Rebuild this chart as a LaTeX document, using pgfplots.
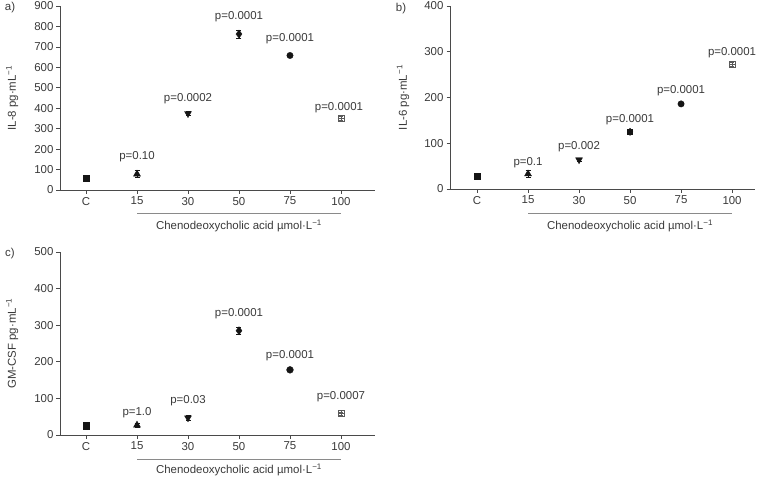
\documentclass[border=0pt]{standalone}
\usepackage{fontspec}
\setmainfont{Liberation Sans}
\usepackage{pgfplots}
\pgfplotsset{compat=1.18}
\definecolor{txt}{HTML}{3A3A3A}
\definecolor{axc}{HTML}{4A4A4A}
\definecolor{ulc}{HTML}{8A8A8A}
\definecolor{mk}{HTML}{151515}
\definecolor{gmk}{HTML}{5A5A5A}
\newcommand{\tf}{\fontsize{11.5}{13}\selectfont}
\newcommand{\xl}{Chenodeoxycholic acid µmol·L\textsuperscript{−1}}
\pgfplotsset{
 panel/.style={
  scale only axis, axis lines=left,
  axis line style={-, draw=axc, line width=0.7pt},
  tick align=outside, major tick length=3.5bp,
  every tick/.style={draw=axc, line width=0.7pt},
  xtick={0,1,2,3,4,5}, xticklabels={C,15,30,50,75,100},
  ymin=0, clip=false,
  /pgf/number format/assume math mode=true,
  tick label style={font=\tf, text=txt},
  yticklabel style={xshift=0.5bp},
  ylabel style={font=\tf, text=txt, anchor=center},
 },
 pt/.style={only marks, color=mk, mark options={solid, fill=mk, draw=mk},
  error bars/y dir=both, error bars/y explicit,
  error bars/error bar style={line width=0.7pt, color=mk},
  error bars/error mark options={rotate=90, mark size=2.5bp, line width=0.7pt, color=mk}},
 gpt/.style={only marks, color=gmk, mark options={solid, draw=gmk, line width=0.6pt},
  error bars/y dir=both, error bars/y explicit,
  error bars/error bar style={line width=0.6pt, color=gmk},
  error bars/error mark options={rotate=90, mark size=2bp, line width=0.6pt, color=gmk}},
}
\begin{document}
\begin{tikzpicture}
\useasboundingbox (0,0) rectangle (758bp,-478bp);
\node[font=\tf, text=txt] at (10bp,-8bp) {a)};
\node[font=\tf, text=txt] at (401bp,-9bp) {b)};
\node[font=\tf, text=txt] at (10bp,-254bp) {c)};
% ---------------- panel a
\begin{axis}[panel, at={(60bp,-190bp)}, anchor=south west,
  width=315bp, height=184bp, xmin=-0.51, xmax=5.667, ymax=900,
  ytick={0,100,...,900},
  ylabel={IL-8 pg·mL\textsuperscript{−1}},
  ylabel style={at={(axis description cs:-0.152,0.5)}}]
\addplot[pt, mark=square*, mark size=3.2bp] coordinates {(0,57) +- (0,4)};
\addplot[pt, mark=triangle*, mark size=4bp] coordinates {(1,78) +- (0,16)};
\addplot[pt, mark=triangle*, mark size=4bp, mark options={rotate=180}] coordinates {(2,374) +- (0,11)};
\addplot[pt, mark=diamond*, mark size=4bp] coordinates {(3,763) +- (0,19)};
\addplot[pt, mark=*, mark size=3.2bp] coordinates {(4,658) +- (0,6)};
\addplot[gpt, mark=square, mark size=3bp] coordinates {(5,351) +- (0,8)};
\addplot[gpt, mark=+, mark size=3bp] coordinates {(5,351) +- (0,0)};
\node[font=\tf, text=txt] at ([yshift=17bp]axis cs:1,78) {p=0.10};
\node[font=\tf, text=txt] at ([yshift=15bp]axis cs:2,374) {p=0.0002};
\node[font=\tf, text=txt] at ([yshift=17bp]axis cs:3,763) {p=0.0001};
\node[font=\tf, text=txt] at ([yshift=17bp]axis cs:4,658) {p=0.0001};
\node[font=\tf, text=txt] at ([yshift=11bp,xshift=-2bp]axis cs:5,351) {p=0.0001};
\draw[ulc, line width=0.7pt] ([yshift=-23bp]axis cs:1,0) -- ([yshift=-23bp]axis cs:5,0);
\node[font=\tf, text=txt] at ([yshift=-36bp]axis cs:3,0) {\xl};
\end{axis}
% ---------------- panel b
\begin{axis}[panel, at={(450bp,-189bp)}, anchor=south west,
  width=305bp, height=183bp, xmin=-0.53, xmax=5.45, ymax=400,
  ytick={0,100,...,400},
  ylabel={IL-6 pg·mL\textsuperscript{−1}},
  ylabel style={at={(axis description cs:-0.154,0.5)}}]
\addplot[pt, mark=square*, mark size=3.2bp] coordinates {(0,28) +- (0,2)};
\addplot[pt, mark=triangle*, mark size=4bp] coordinates {(1,33) +- (0,7)};
\addplot[pt, mark=triangle*, mark size=4bp, mark options={rotate=180}] coordinates {(2,64) +- (0,3)};
\addplot[pt, mark=square*, mark size=2.6bp] coordinates {(3,125) +- (0,5)};
\addplot[pt, mark=diamond*, mark size=3.7bp] coordinates {(3,125) +- (0,0)};
\addplot[pt, mark=*, mark size=3.2bp] coordinates {(4,186) +- (0,3)};
\addplot[gpt, mark=square, mark size=3bp] coordinates {(5,272) +- (0,4)};
\addplot[gpt, mark=+, mark size=3bp] coordinates {(5,272) +- (0,0)};
\node[font=\tf, text=txt] at ([yshift=11bp]axis cs:1,33) {p=0.1};
\node[font=\tf, text=txt] at ([yshift=13bp]axis cs:2,64) {p=0.002};
\node[font=\tf, text=txt] at ([yshift=12bp]axis cs:3,125) {p=0.0001};
\node[font=\tf, text=txt] at ([yshift=13bp]axis cs:4,186) {p=0.0001};
\node[font=\tf, text=txt] at ([yshift=12bp]axis cs:5,272) {p=0.0001};
\draw[ulc, line width=0.7pt] ([yshift=-24bp]axis cs:1,0) -- ([yshift=-24bp]axis cs:5,0);
\node[font=\tf, text=txt] at ([yshift=-37bp]axis cs:3,0) {\xl};
\end{axis}
% ---------------- panel c
\begin{axis}[panel, at={(60bp,-435bp)}, anchor=south west,
  width=315bp, height=183bp, xmin=-0.51, xmax=5.667, ymax=500,
  ytick={0,100,...,500},
  ylabel={GM-CSF pg·mL\textsuperscript{−1}},
  ylabel style={at={(axis description cs:-0.152,0.5)}}]
\addplot[pt, mark=square*, mark size=3.2bp] coordinates {(0,25) +- (0,3)};
\addplot[pt, mark=triangle*, mark size=4bp] coordinates {(1,27) +- (0,5)};
\addplot[pt, mark=triangle*, mark size=4bp, mark options={rotate=180}] coordinates {(2,47) +- (0,7)};
\addplot[pt, mark=diamond*, mark size=4bp] coordinates {(3,285) +- (0,10)};
\addplot[pt, mark=*, mark size=3.4bp] coordinates {(4,178) +- (0,4)};
\addplot[gpt, mark=square, mark size=3bp] coordinates {(5,59) +- (0,4)};
\addplot[gpt, mark=+, mark size=3bp] coordinates {(5,59) +- (0,0)};
\node[font=\tf, text=txt] at ([yshift=12bp]axis cs:1,27) {p=1.0};
\node[font=\tf, text=txt] at ([yshift=17bp]axis cs:2,47) {p=0.03};
\node[font=\tf, text=txt] at ([yshift=17bp]axis cs:3,285) {p=0.0001};
\node[font=\tf, text=txt] at ([yshift=14bp]axis cs:4,178) {p=0.0001};
\node[font=\tf, text=txt] at ([yshift=17bp]axis cs:5,59) {p=0.0007};
\draw[ulc, line width=0.7pt] ([yshift=-24bp]axis cs:1,0) -- ([yshift=-24bp]axis cs:5,0);
\node[font=\tf, text=txt] at ([yshift=-35bp]axis cs:3,0) {\xl};
\end{axis}
\end{tikzpicture}
\end{document}
